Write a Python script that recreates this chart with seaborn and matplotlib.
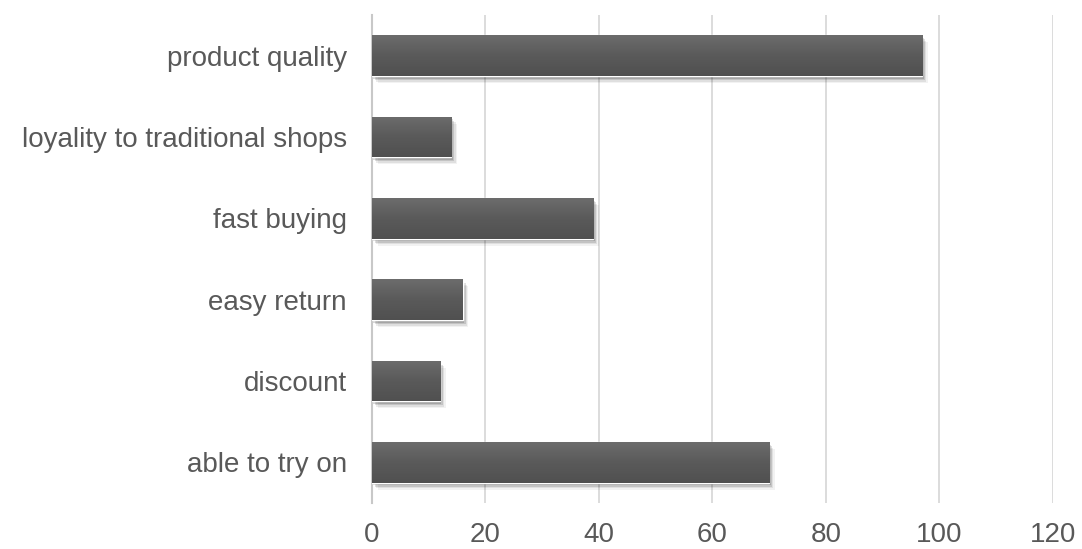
import matplotlib
matplotlib.use("Agg")
import matplotlib.pyplot as plt
import matplotlib.patheffects as pe
import numpy as np
import pandas as pd
import seaborn as sns

categories = ["product quality", "loyality to traditional shops", "fast buying",
              "easy return", "discount", "able to try on"]
values = [97, 14, 39, 16, 12, 70]
x_ticks = [0, 20, 40, 60, 80, 100, 120]

sns.set_theme(style="white")
plt.rcParams["font.family"] = ["Liberation Sans", "DejaVu Sans"]

df = pd.DataFrame({"category": categories, "value": values})

fig = plt.figure(figsize=(10.82, 5.49), dpi=100)
ax = fig.add_axes([0.3438, 0.0838, 0.6292, 0.8889])

sns.barplot(data=df, y="category", x="value", orient="h", color="#5c5c5c",
            width=0.5, ax=ax, saturation=1, zorder=3)

# gradient fill + soft shadow
grad = np.linspace(0, 1, 64).reshape(-1, 1)
cmap = matplotlib.colors.LinearSegmentedColormap.from_list(
    "g", ["#6c6c6c", "#5a5a5a", "#505050"])
for p in ax.patches:
    p.set_path_effects([
        pe.SimplePatchShadow(offset=(4, -5), shadow_rgbFace="black", alpha=0.05),
        pe.SimplePatchShadow(offset=(3, -4), shadow_rgbFace="black", alpha=0.08),
        pe.SimplePatchShadow(offset=(2, -3), shadow_rgbFace="black", alpha=0.12),
        pe.SimplePatchShadow(offset=(1, -2), shadow_rgbFace="black", alpha=0.15),
        pe.Normal(),
    ])
    x0, y0 = p.get_x(), p.get_y()
    w, h = p.get_width(), p.get_height()
    im = ax.imshow(grad, extent=[x0, x0 + w, y0 + h, y0], aspect="auto",
                   cmap=cmap, zorder=4, origin="upper")
    im.set_clip_path(p)

ax.set_xlim(0, 120)
ax.set_ylim(5.5, -0.5)
ax.set_xticks(x_ticks)
ax.set_xticklabels([str(t) for t in x_ticks])
ax.xaxis.grid(True, color="#d9d9d9", linewidth=1.3, zorder=0)
ax.yaxis.grid(False)
ax.set_axisbelow(True)
for s in ["top", "right", "bottom"]:
    ax.spines[s].set_visible(False)
ax.spines["left"].set_color("#c8c8c8")
ax.spines["left"].set_linewidth(1.5)
ax.tick_params(axis="both", length=0, labelsize=20, labelcolor="#595959")
ax.tick_params(axis="y", pad=18)
ax.tick_params(axis="x", pad=14)
ax.set_xlabel("")
ax.set_ylabel("")

fig.savefig("out.png", dpi=100)
